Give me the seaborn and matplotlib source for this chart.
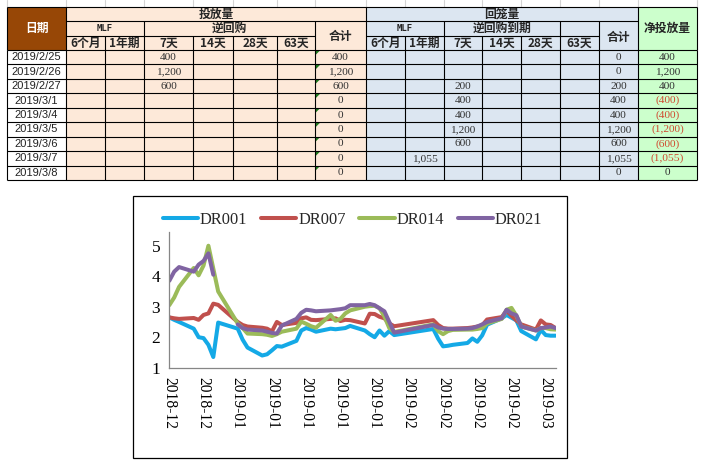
import numpy as np
import pandas as pd
import matplotlib
matplotlib.use("Agg")
import matplotlib.pyplot as plt
import seaborn as sns
from matplotlib.patches import Rectangle, Polygon

# ---------------- chart data ----------------
trade_dates = [
    "2018-12-19", "2018-12-20", "2018-12-21", "2018-12-24", "2018-12-25", "2018-12-26",
    "2018-12-27", "2018-12-28", "2018-12-29",
    "2019-01-02", "2019-01-03", "2019-01-04", "2019-01-07", "2019-01-08", "2019-01-09",
    "2019-01-10", "2019-01-11", "2019-01-14", "2019-01-15", "2019-01-16", "2019-01-17",
    "2019-01-18", "2019-01-21", "2019-01-22", "2019-01-23", "2019-01-24", "2019-01-25",
    "2019-01-28", "2019-01-29", "2019-01-30", "2019-01-31",
    "2019-02-01", "2019-02-02", "2019-02-03", "2019-02-11", "2019-02-12", "2019-02-13",
    "2019-02-14", "2019-02-15", "2019-02-18", "2019-02-19", "2019-02-20", "2019-02-21",
    "2019-02-22", "2019-02-25", "2019-02-26", "2019-02-27", "2019-02-28",
    "2019-03-01", "2019-03-04", "2019-03-05", "2019-03-06", "2019-03-07", "2019-03-08",
]
dr001 = [2.65, 2.57, 2.50, 2.28, 2.00, 1.97, 1.75, 1.35, 2.48,
         2.28, 1.92, 1.66, 1.40, 1.44, 1.57, 1.71, 1.69, 1.88, 2.22, 2.30, 2.25, 2.18,
         2.28, 2.26, 2.28, 2.30, 2.37, 2.22, 2.10, 2.00, 2.22,
         2.05, 2.20, 2.07, 2.27, 1.95, 1.70, 1.72, 1.75, 1.81, 1.96, 1.85, 2.06,
         2.41, 2.62, 2.73, 2.64, 2.55,
         2.20, 1.93, 2.24, 2.07, 2.05, 2.05]
dr007 = [2.65, 2.62, 2.60, 2.63, 2.57, 2.73, 2.78, 3.10, 3.06,
         2.50, 2.40, 2.35, 2.31, 2.28, 2.19, 2.50, 2.40, 2.47, 2.62, 2.65, 2.57, 2.56,
         2.60, 2.62, 2.53, 2.57, 2.56, 2.45, 2.77, 2.76, 2.67,
         2.62, 2.45, 2.36, 2.56, 2.40, 2.30, 2.28, 2.28, 2.30, 2.32, 2.35, 2.39,
         2.58, 2.66, 2.87, 2.70, 2.55,
         2.42, 2.25, 2.55, 2.42, 2.40, 2.30]
dr014 = [3.05, 3.30, 3.65, 4.27, 4.03, 4.35, 5.00, 4.25, 3.50,
         2.45, 2.30, 2.12, 2.10, 2.08, 2.04, 2.10, 2.18, 2.28, 2.51, 2.44, 2.36, 2.31,
         2.73, 2.54, 2.60, 2.78, 2.88, 3.00, 3.02, 3.03, 2.95,
         2.68, 2.30, 2.17, 2.42, 2.20, 2.10, 2.20, 2.24, 2.25, 2.25, 2.27, 2.30,
         2.45, 2.60, 2.90, 2.96, 2.70,
         2.35, 2.22, 2.30, 2.30, 2.26, 2.25]
dr021 = [3.85, 4.15, 4.30, 4.15, 4.38, 4.50, 4.75, 4.05, np.nan,
         2.42, 2.30, 2.25, 2.22, 2.18, 2.14, 2.12, 2.38, 2.60, 2.80, 2.90, 2.88, 2.85,
         2.88, 2.90, 2.92, 2.95, 3.05, 3.05, 3.09, 3.05, 2.95,
         2.85, 2.50, 2.15, 2.40, 2.32, 2.28, 2.27, 2.27, 2.28, 2.30, 2.35, 2.42,
         2.50, 2.62, 2.90, 2.78, 2.72,
         2.35, 2.22, 2.30, 2.32, 2.35, 2.30]
series_names = ["DR001", "DR007", "DR014", "DR021"]
series_values = [dr001, dr007, dr014, dr021]
series_colors = ["#14A9E6", "#C0504D", "#9BBB59", "#8064A2"]
y_ticks = [1, 2, 3, 4, 5]

# ---------------- table data ----------------
tbl_dates = ["2019/2/25", "2019/2/26", "2019/2/27", "2019/3/1", "2019/3/4",
             "2019/3/5", "2019/3/6", "2019/3/7", "2019/3/8"]
inj_7d = [400, 1200, 600, None, None, None, None, None, None]
inj_total = [400, 1200, 600, 0, 0, 0, 0, 0, 0]
ret_1y = [None, None, None, None, None, None, None, 1055, None]
ret_7d = [None, None, 200, 400, 400, 1200, 600, None, None]
ret_total = [0, 0, 200, 400, 400, 1200, 600, 1055, 0]
net_inj = [400, 1200, 400, -400, -400, -1200, -600, -1055, 0]
term_labels = ["6个月", "1年期", "7天", "14天", "28天", "63天"]
hdr_date = "日期"
hdr_inj = "投放量"
hdr_ret = "回笼量"
hdr_net = "净投放量"
hdr_total = "合计"
hdr_mlf = "MLF"
hdr_rr = "逆回购"
hdr_rr_due = "逆回购到期"

CJK = ["Noto Sans CJK SC", "DejaVu Sans"]

sns.set_style("white")
fig = plt.figure(figsize=(7.01, 4.63), dpi=100)
fig.patch.set_facecolor("white")

# overlay in pixel coordinates for table and chart frame
bg = fig.add_axes([0, 0, 1, 1])
bg.set_xlim(0, 701)
bg.set_ylim(463, 0)
bg.axis("off")

col_x = [7, 66, 105, 144, 193, 233, 277, 315, 366, 405, 444, 482, 521, 560, 599, 638, 697]
y_top, y_r1, y_r2, y_hdr = 6.5, 21, 35.5, 50
row_h = 14.45
n_rows = len(tbl_dates)
y_bot = y_hdr + row_h * n_rows

peach, blue_bg, green_bg, brown = "#FDE9D9", "#DCE6F1", "#CCFFCC", "#974706"

bg.add_patch(Rectangle((7, y_hdr), 59, y_bot - y_hdr, fc="white", ec="none"))
bg.add_patch(Rectangle((7, y_top), 59, y_hdr - y_top, fc=brown, ec="none"))
bg.add_patch(Rectangle((66, y_top), 300, y_bot - y_top, fc=peach, ec="none"))
bg.add_patch(Rectangle((366, y_top), 272, y_bot - y_top, fc=blue_bg, ec="none"))
bg.add_patch(Rectangle((638, y_top), 59, y_bot - y_top, fc=green_bg, ec="none"))

for cx in col_x:
    bg.plot([cx, cx], [0, y_top], color="#D4D4D4", lw=0.8)

lw = 0.8
def hline(y, x0, x1):
    bg.plot([x0, x1], [y, y], color="black", lw=lw, solid_capstyle="butt")
def vline(x, y0, y1):
    bg.plot([x, x], [y0, y1], color="black", lw=lw, solid_capstyle="butt")

hline(y_top, 7, 697)
hline(y_r1, 66, 638)
hline(y_r2, 66, 315)
hline(y_r2, 366, 599)
for i in range(n_rows + 1):
    hline(y_hdr + i * row_h, 7, 697)
for cx in col_x:
    vline(cx, y_hdr, y_bot)
for cx in [7, 66, 366, 638, 697]:
    vline(cx, y_top, y_hdr)
for cx in [144, 315, 444, 560, 599]:
    vline(cx, y_r1, y_hdr)
for cx in [105, 193, 233, 277, 405, 482, 521]:
    vline(cx, y_r2, y_hdr)

def ctr(i):
    return (col_x[i] + col_x[i + 1]) / 2

hk = dict(family=CJK, weight="bold", ha="center", va="center", fontsize=8.5)
bg.text(36.5, 28.5, hdr_date, color="white", **hk)
bg.text(216, 14, hdr_inj, **hk)
bg.text(502, 14, hdr_ret, **hk)
bg.text(667.5, 28.5, hdr_net, **hk)
bg.text(340.5, 36.5, hdr_total, **hk)
bg.text(618.5, 37, hdr_total, **hk)
bg.text(229.5, 28.3, hdr_rr, **hk)
bg.text(502, 28.3, hdr_rr_due, **hk)
mk = dict(family="DejaVu Sans Mono", weight="bold", ha="center", va="center", fontsize=6.5)
bg.text(105, 28.3, hdr_mlf, **mk)
bg.text(405, 28.3, hdr_mlf, **mk)
for k, lab in enumerate(term_labels):
    bg.text(ctr(1 + k), 43, lab, **hk)
    bg.text(ctr(8 + k), 43, lab, **hk)

def fmt(v):
    if v is None:
        return ""
    if v < 0:
        return "({:,})".format(abs(v))
    return "{:,}".format(v)

nk = dict(family="Liberation Serif", ha="center", va="center", fontsize=8.2)
for r in range(n_rows):
    yc = y_hdr + (r + 0.5) * row_h
    bg.text(ctr(0), yc, tbl_dates[r], family="Liberation Sans", ha="center",
            va="center", fontsize=8, color="#222222")
    for ci, arr in [(3, inj_7d), (7, inj_total), (9, ret_1y), (10, ret_7d), (14, ret_total)]:
        bg.text(ctr(ci), yc, fmt(arr[r]), color="#333333", **nk)
    v = net_inj[r]
    bg.text(ctr(15), yc, fmt(v), color="#D04A30" if v < 0 else "#333333", **nk)
    y0 = y_hdr + r * row_h
    bg.add_patch(Polygon([[315.5, y0 + 0.5], [320, y0 + 0.5], [315.5, y0 + 5]],
                         closed=True, fc="#1E7B1E", ec="none"))

bg.add_patch(Rectangle((133, 195.5), 434, 262.5, fc="white", ec="black", lw=0.9))

# ---------------- line chart ----------------
ax = fig.add_axes([169.3 / 701, 1 - 367.7 / 463, (555.5 - 169.3) / 701, (367.7 - 232) / 463])
ax.patch.set_alpha(0)
x_dates = pd.to_datetime(trade_dates)
for name, vals, col in zip(series_names, series_values, series_colors):
    s = pd.Series(vals, index=x_dates)
    seg_id = s.isna().cumsum()
    first = True
    for _, seg in s.groupby(seg_id):
        seg = seg.dropna()
        if len(seg) == 0:
            continue
        sns.lineplot(x=seg.index, y=seg.values, color=col, lw=2.9, ax=ax,
                     label=name if first else "_nolegend_", legend=False)
        first = False

ax.set_xlim(x_dates[0], x_dates[-1])
ax.set_ylim(1, 5.45)
ax.set_yticks(y_ticks)
ax.set_yticklabels([str(t) for t in y_ticks], family="Liberation Serif", fontsize=12.5)
tick_dates = pd.date_range(start=x_dates[0], periods=12, freq="7D")
ax.set_xticks(tick_dates)
ax.set_xticklabels([d.strftime("%Y-%m") for d in tick_dates], family="Liberation Serif",
                   fontsize=11.2, rotation=-90)
ax.set_xlabel("")
ax.set_ylabel("")
for sp in ["top", "right"]:
    ax.spines[sp].set_visible(False)
for sp in ["left", "bottom"]:
    ax.spines[sp].set_color("#868686")
    ax.spines[sp].set_linewidth(0.9)
ax.tick_params(axis="both", direction="out", length=4, width=0.9, color="#868686",
               labelcolor="black")
ax.tick_params(axis="y", pad=2.5)
ax.tick_params(axis="x", pad=3)

handles, labels = ax.get_legend_handles_labels()
fig.legend(handles, labels, ncol=4, loc="center", bbox_to_anchor=(352.5 / 701, 1 - 220 / 463),
           frameon=False, prop={"family": "Liberation Serif", "size": 11.8},
           handlelength=2.15, handletextpad=0.1, columnspacing=0.85, borderpad=0)

fig.savefig("out.png", dpi=100)
